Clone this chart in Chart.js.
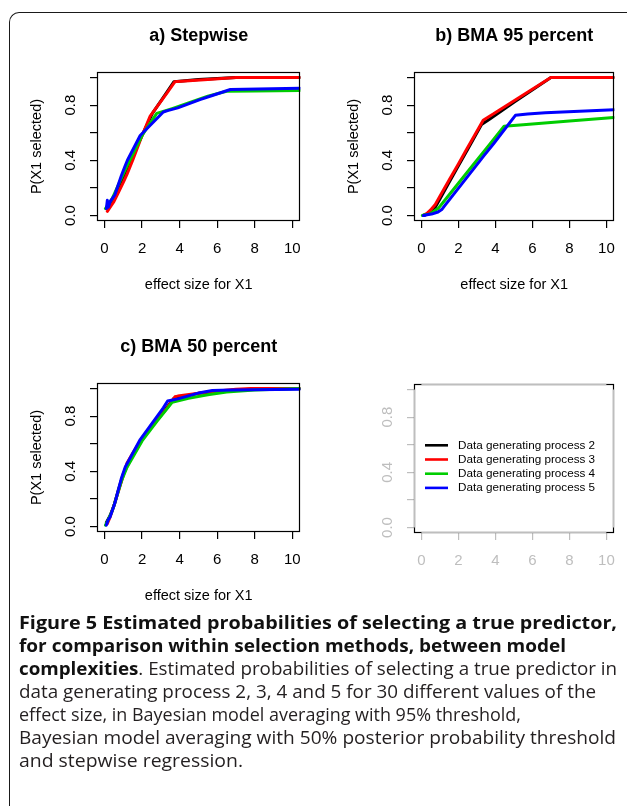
<!DOCTYPE html>
<html>
<head>
<meta charset="utf-8">
<script src="https://cdn.jsdelivr.net/npm/chart.js@4"></script>
<style>
html,body{margin:0;padding:0;background:#fff;width:627px;height:806px;overflow:hidden;}
#frame{position:absolute;left:9px;top:12px;width:700px;height:900px;border-left:1px solid #1a1a1a;border-top:1px solid #1a1a1a;border-top-left-radius:10px;box-sizing:border-box;}
.panel{position:absolute;}
#caption{position:absolute;left:19px;top:610px;font-family:"Open Sans",sans-serif;font-size:18.5px;line-height:23px;color:#231f20;white-space:nowrap;}
#caption .ln{display:block;height:23px;}
#caption .ln span{display:inline-block;transform-origin:0 50%;}
#caption b{font-weight:700;color:#111;}
</style>
</head>
<body>
<div id="frame"></div>
<div class="panel" id="pa" style="left:0px;top:0px;width:313px;height:306px"><canvas id="ca"></canvas></div>
<div class="panel" id="pb" style="left:313px;top:0px;width:314px;height:306px"><canvas id="cb"></canvas></div>
<div class="panel" id="pc" style="left:0px;top:306px;width:313px;height:306px"><canvas id="cc"></canvas></div>
<div class="panel" id="pd" style="left:313px;top:306px;width:314px;height:306px"><canvas id="cd"></canvas></div>
<div id="caption">
<div class="ln"><span><b>Figure 5 Estimated probabilities of selecting a true predictor,</b></span></div>
<div class="ln"><span><b>for comparison within selection methods, between model</b></span></div>
<div class="ln"><span><b>complexities</b>. Estimated probabilities of selecting a true predictor in</span></div>
<div class="ln"><span>data generating process 2, 3, 4 and 5 for 30 different values of the</span></div>
<div class="ln"><span>effect size, in Bayesian model averaging with 95% threshold,</span></div>
<div class="ln"><span>Bayesian model averaging with 50% posterior probability threshold</span></div>
<div class="ln"><span>and stepwise regression.</span></div>
</div>
<script>
// ---------- data ----------
const xTicks = [0, 2, 4, 6, 8, 10];
const xTickLabels = ['0', '2', '4', '6', '8', '10'];
const yTicks = [0, 0.2, 0.4, 0.6, 0.8, 1.0];
const yTickLabels = ['0.0', '', '0.4', '', '0.8', ''];
const panelTitles = ['a) Stepwise', 'b) BMA 95 percent', 'c) BMA 50 percent'];
const xAxisTitle = 'effect size for X1';
const yAxisTitle = 'P(X1 selected)';
const seriesNames = ['Data generating process 2', 'Data generating process 3', 'Data generating process 4', 'Data generating process 5'];
const seriesColors = ['#000000', '#ff0000', '#00cd00', '#0000ff'];

// effect sizes (x) per data generating process
const effectDGP2 = [0.1, 0.3, 0.5, 0.75, 1.0, 1.5, 2.0, 2.55, 3.25, 3.7, 5.0, 7.0, 8.5, 10.4];
const effectDGP3 = [0.15, 0.3, 0.5, 0.75, 1.0, 1.2, 1.5, 2.0, 2.43, 3.34, 3.75, 3.9, 5.5, 7.0, 7.8, 10.4];
const effectDGP4 = [0.05, 0.2, 0.4, 0.5, 0.9, 1.2, 2.0, 2.78, 3.6, 4.47, 5.5, 6.5, 8.0, 10.4];
const effectDGP5 = [0.1, 0.15, 0.2, 0.3, 0.55, 0.9, 1.1, 1.22, 1.9, 3.13, 3.36, 3.9, 5.08, 5.74, 6.7, 10.4];

// a) Stepwise
const stepDGP2 = [0.05, 0.07, 0.12, 0.20, 0.28, 0.43, 0.58, 0.74, 0.88, 0.97, 0.985, 1.0, 1.0, 1.0];
const stepDGP3 = [0.03, 0.06, 0.10, 0.17, 0.24, 0.30, 0.40, 0.58, 0.72, 0.89, 0.97, 0.972, 0.985, 1.0, 1.0, 1.0];
const stepDGP4 = [0.05, 0.08, 0.12, 0.15, 0.27, 0.36, 0.58, 0.74, 0.775, 0.815, 0.865, 0.90, 0.903, 0.906];
const stepDGP5 = [0.05, 0.11, 0.06, 0.10, 0.15, 0.29, 0.36, 0.40, 0.58, 0.75, 0.76, 0.78, 0.84, 0.87, 0.913, 0.923];

// b) BMA 95 percent
const bma95DGP2 = [0.0, 0.01, 0.03, 0.06, 0.12, 0.24, 0.36, 0.49, 0.66, 0.70, 0.82, 1.0, 1.0, 1.0];
const bma95DGP3 = [0.005, 0.015, 0.04, 0.08, 0.139, 0.186, 0.257, 0.374, 0.477, 0.69, 0.725, 0.737, 0.873, 1.0, 1.0, 1.0];
const bma95DGP4 = [0.0, 0.005, 0.01, 0.015, 0.05, 0.10, 0.234, 0.364, 0.501, 0.647, 0.658, 0.668, 0.684, 0.71];
const bma95DGP5 = [0.0, 0.0, 0.002, 0.005, 0.01, 0.025, 0.043, 0.064, 0.18, 0.39, 0.43, 0.52, 0.726, 0.735, 0.745, 0.767];

// c) BMA 50 percent
const bma50DGP2 = [0.03, 0.08, 0.15, 0.27, 0.38, 0.52, 0.64, 0.73, 0.85, 0.93, 0.965, 0.99, 1.0, 1.0];
const bma50DGP3 = [0.02, 0.07, 0.15, 0.26, 0.37, 0.46, 0.53, 0.64, 0.71, 0.86, 0.94, 0.945, 0.975, 0.995, 1.0, 1.0];
const bma50DGP4 = [0.01, 0.05, 0.11, 0.15, 0.33, 0.43, 0.62, 0.76, 0.90, 0.93, 0.955, 0.975, 0.99, 1.0];
const bma50DGP5 = [0.01, 0.03, 0.05, 0.07, 0.17, 0.35, 0.43, 0.46, 0.63, 0.86, 0.91, 0.925, 0.97, 0.985, 0.99, 0.995];

// ---------- helpers ----------
const FONT = '"Liberation Sans", Arial, sans-serif';
const xRange = [-0.4, 10.43];
const yRange = [-0.04, 1.04];

function pts(xs, ys) { return xs.map((x, i) => ({ x: x, y: ys[i] })); }

const rDecor = {
  id: 'rDecor',
  afterDraw(chart, args, o) {
    const ctx = chart.ctx;
    const a = chart.chartArea;
    const xs = chart.scales.x, ys = chart.scales.y;
    const L = Math.round(a.left) + 0.5, R = Math.round(a.right) - 0.5;
    const T = Math.round(a.top) + 0.5, B = Math.round(a.bottom) - 0.5;
    ctx.save();
    ctx.lineWidth = 1.2;
    ctx.strokeStyle = '#000';
    ctx.strokeRect(L, T, R - L, B - T);
    if (o.grey) {
      ctx.strokeStyle = o.axisColor;
      ctx.lineWidth = 1.4;
      const x0 = xs.getPixelForValue(xTicks[0]), x1 = xs.getPixelForValue(xTicks[xTicks.length - 1]);
      const y0 = ys.getPixelForValue(yTicks[0]), y1 = ys.getPixelForValue(yTicks[yTicks.length - 1]);
      ctx.beginPath();
      ctx.moveTo(x0, T); ctx.lineTo(x1, T);
      ctx.moveTo(x0, B); ctx.lineTo(x1, B);
      ctx.moveTo(L, y0); ctx.lineTo(L, y1);
      ctx.moveTo(R, y0); ctx.lineTo(R, y1);
      ctx.stroke();
    }
    ctx.fillStyle = o.labelColor;
    ctx.font = '15px ' + FONT;
    ctx.textAlign = 'center';
    ctx.textBaseline = 'middle';
    yTicks.forEach((v, i) => {
      const lab = yTickLabels[i];
      if (!lab) return;
      const py = ys.getPixelForValue(v);
      ctx.save();
      ctx.translate(a.left - 26, py);
      ctx.rotate(-Math.PI / 2);
      ctx.fillText(lab, 0, 0);
      ctx.restore();
    });
    const cx = (a.left + a.right) / 2;
    if (o.title) {
      ctx.fillStyle = '#000';
      ctx.font = 'bold 18px ' + FONT;
      ctx.fillText(o.title, cx, a.top - 35.5);
    }
    if (o.xTitle) {
      ctx.fillStyle = '#000';
      ctx.font = '14.5px ' + FONT;
      ctx.fillText(o.xTitle, cx, a.bottom + 64);
    }
    if (o.yTitle) {
      ctx.fillStyle = '#000';
      ctx.font = '14.5px ' + FONT;
      ctx.save();
      ctx.translate(a.left - 60, (a.top + a.bottom) / 2);
      ctx.rotate(-Math.PI / 2);
      ctx.fillText(o.yTitle, 0, 0);
      ctx.restore();
    }
    if (o.legend) {
      ctx.font = '11.7px ' + FONT;
      ctx.textAlign = 'left';
      seriesNames.forEach((name, i) => {
        const py = a.top + 61.3 + i * 14.2;
        ctx.strokeStyle = seriesColors[i];
        ctx.lineWidth = 2.6;
        ctx.beginPath();
        ctx.moveTo(a.left + 11, py);
        ctx.lineTo(a.left + 34, py);
        ctx.stroke();
        ctx.fillStyle = '#000';
        ctx.fillText(name, a.left + 44, py);
      });
    }
    ctx.restore();
  }
};

function makePanel(canvasId, geom, ySeries, deco) {
  const yW = geom.area.l - geom.left;
  const xH = 70;
  const padTop = geom.area.t - geom.top;
  const padRight = geom.left + geom.width - geom.area.r;
  const padBottom = geom.top + geom.height - geom.area.b - xH;
  const effects = [effectDGP2, effectDGP3, effectDGP4, effectDGP5];
  const order = [3, 2, 1, 0];
  const datasets = ySeries.map((ys, i) => ({
    label: seriesNames[i],
    data: pts(effects[i], ys),
    borderColor: seriesColors[i],
    backgroundColor: seriesColors[i],
    borderWidth: 3,
    pointRadius: 0,
    tension: 0,
    fill: false,
    borderJoinStyle: 'round',
    borderCapStyle: 'round',
    order: order[i]
  }));
  const axisColor = deco.grey ? '#bebebe' : '#000';
  const labelColor = deco.grey ? '#bebebe' : '#000';
  deco.axisColor = axisColor;
  deco.labelColor = labelColor;
  return new Chart(document.getElementById(canvasId), {
    type: 'line',
    data: { datasets: datasets },
    options: {
      responsive: true,
      maintainAspectRatio: false,
      animation: false,
      events: [],
      layout: { padding: { left: 0, right: padRight, top: padTop, bottom: padBottom } },
      plugins: {
        legend: { display: false },
        tooltip: { enabled: false },
        rDecor: deco
      },
      scales: {
        x: {
          type: 'linear',
          min: xRange[0], max: xRange[1],
          afterBuildTicks: s => { s.ticks = xTicks.map(v => ({ value: v })); },
          afterFit: s => { s.height = xH; },
          grid: { drawOnChartArea: false, drawTicks: true, tickLength: 7, color: axisColor, lineWidth: 1.2 },
          border: { display: false },
          ticks: {
            padding: 12, autoSkip: false, maxRotation: 0, minRotation: 0,
            color: labelColor,
            font: { family: FONT, size: 15 },
            callback: (v, i) => xTickLabels[i]
          }
        },
        y: {
          type: 'linear',
          min: yRange[0], max: yRange[1],
          afterBuildTicks: s => { s.ticks = yTicks.map(v => ({ value: v })); },
          afterFit: s => { s.width = yW; },
          grid: { drawOnChartArea: false, drawTicks: true, tickLength: 7, color: axisColor, lineWidth: 1.2 },
          border: { display: false },
          ticks: { display: false }
        }
      }
    },
    plugins: [rDecor]
  });
}

makePanel('ca', { left: 0, top: 0, width: 313, height: 306, area: { l: 97, t: 72, r: 305, b: 221 } },
  [stepDGP2, stepDGP3, stepDGP4, stepDGP5],
  { title: panelTitles[0], xTitle: xAxisTitle, yTitle: yAxisTitle });
makePanel('cb', { left: 313, top: 0, width: 314, height: 306, area: { l: 414, t: 72, r: 621, b: 221 } },
  [bma95DGP2, bma95DGP3, bma95DGP4, bma95DGP5],
  { title: panelTitles[1], xTitle: xAxisTitle, yTitle: yAxisTitle });
makePanel('cc', { left: 0, top: 306, width: 313, height: 306, area: { l: 97, t: 383, r: 305, b: 532 } },
  [bma50DGP2, bma50DGP3, bma50DGP4, bma50DGP5],
  { title: panelTitles[2], xTitle: xAxisTitle, yTitle: yAxisTitle });
makePanel('cd', { left: 313, top: 306, width: 314, height: 306, area: { l: 414, t: 384, r: 620, b: 533 } },
  [[], [], [], []],
  { grey: true, legend: true });

// caption: fit each line to the width it has in the figure
const captionRight = [617, 566, 617, 596, 521, 616, 243];
function fitCaption() {
  const spans = document.querySelectorAll('#caption .ln span');
  spans.forEach((s, i) => {
    s.style.transform = 'none';
    const w = s.getBoundingClientRect().width;
    const target = captionRight[i] - 19;
    if (w > 0) s.style.transform = 'scaleX(' + (target / w).toFixed(4) + ')';
  });
}
fitCaption();
if (document.fonts && document.fonts.ready) document.fonts.ready.then(fitCaption);
</script>
</body>
</html>
